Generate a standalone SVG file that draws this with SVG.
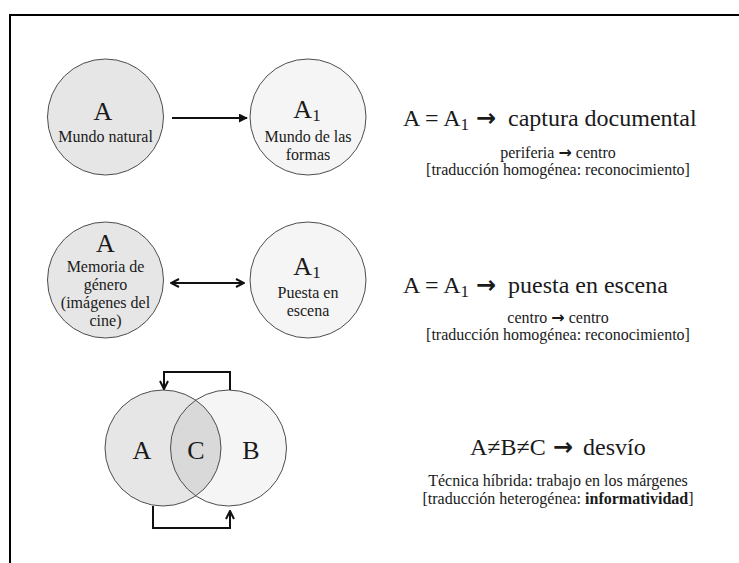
<svg xmlns="http://www.w3.org/2000/svg" width="739" height="563" viewBox="0 0 739 563">
  <defs>
    <style>
      text { font-family: "Liberation Serif", "Times New Roman", serif; fill: #1a1a1a; }
      .ring { stroke: #4d4d4d; stroke-width: 1; }
      .fa { fill: #e6e6e6; }
      .fb { fill: #f5f5f5; }
      .fc { fill: #d9d9d9; }
      .key { font-size: 26px; text-anchor: middle; }
      .sub { font-size: 17px; }
      .lbl { font-size: 16px; text-anchor: middle; }
      .big { font-size: 24px; }
      .sm { font-size: 16px; text-anchor: middle; }
      .arr { font-family: "DejaVu Sans", sans-serif; font-weight: bold; }
      .conn { fill: none; stroke: #111; stroke-width: 2; }
    </style>
    <marker id="head" viewBox="0 0 10 10" refX="9" refY="5" markerWidth="9" markerHeight="9" markerUnits="userSpaceOnUse" orient="auto-start-reverse">
      <path d="M0,0 L10,5 L0,10 z" fill="#111"/>
    </marker>
    <marker id="chev" viewBox="0 0 10 10" refX="9" refY="5" markerWidth="10" markerHeight="10" markerUnits="userSpaceOnUse" orient="auto-start-reverse">
      <path d="M1,1 L9,5 L1,9" fill="none" stroke="#111" stroke-width="2"/>
    </marker>
    <clipPath id="leftDisc">
      <circle cx="163" cy="448" r="58"/>
    </clipPath>
  </defs>

  <rect width="739" height="563" fill="#fff"/>
  <!-- frame -->
  <path d="M10 563 V15 H739" fill="none" stroke="#000" stroke-width="2"/>

  <!-- row 1 -->
  <g id="mundo-natural">
    <circle class="ring fa" cx="105.5" cy="117" r="58"/>
    <text class="key" x="103" y="120">A</text>
    <text class="lbl" x="105.5" y="142">Mundo natural</text>
  </g>
  <g id="mundo-formas">
    <circle class="ring fb" cx="308" cy="117" r="58"/>
    <text class="key" x="307" y="118">A<tspan class="sub" dy="3">1</tspan></text>
    <text class="lbl" x="308" y="142">Mundo de las</text>
    <text class="lbl" x="308" y="160">formas</text>
  </g>

  <!-- row 2 -->
  <g id="memoria-genero">
    <circle class="ring fa" cx="105.5" cy="280" r="58"/>
    <text class="key" x="105.5" y="252">A</text>
    <text class="lbl" x="105.5" y="272">Memoria de</text>
    <text class="lbl" x="105.5" y="290">género</text>
    <text class="lbl" x="105.5" y="308">(imágenes del</text>
    <text class="lbl" x="105.5" y="326">cine)</text>
  </g>
  <g id="puesta-escena">
    <circle class="ring fb" cx="308" cy="280" r="58"/>
    <text class="key" x="307" y="275">A<tspan class="sub" dy="3">1</tspan></text>
    <text class="lbl" x="308" y="298">Puesta en</text>
    <text class="lbl" x="308" y="316">escena</text>
  </g>

  <!-- row 3: overlapping sets -->
  <g id="venn">
    <circle class="fa" cx="163" cy="448" r="58"/>
    <circle class="fb" cx="228.5" cy="448" r="58"/>
    <circle class="fc" cx="228.5" cy="448" r="58" clip-path="url(#leftDisc)"/>
    <circle class="ring" fill="none" cx="163" cy="448" r="58"/>
    <circle class="ring" fill="none" cx="228.5" cy="448" r="58"/>
    <text class="key" x="142" y="459">A</text>
    <text class="key" x="196" y="459">C</text>
    <text class="key" x="251" y="459">B</text>
  </g>

  <!-- connectors -->
  <g id="connectors">
    <line class="conn" x1="172" y1="118" x2="247" y2="118" marker-end="url(#head)"/>
    <line class="conn" x1="171" y1="283" x2="244" y2="283" marker-start="url(#chev)" marker-end="url(#chev)"/>
    <path class="conn" d="M230 390 V372 H164 V389" marker-end="url(#chev)"/>
    <path class="conn" d="M153 506 V528 H230 V511" marker-end="url(#chev)"/>
  </g>

  <!-- formulas -->
  <g id="formula-1">
    <text class="big" y="126"><tspan x="403">A = A</tspan><tspan class="sub" dy="4">1</tspan><tspan class="arr" x="476" dy="-4">→</tspan><tspan x="508">captura documental</tspan></text>
    <text class="sm" x="558" y="158">periferia <tspan class="arr">→</tspan> centro</text>
    <text class="sm" x="558" y="175">[traducción homogénea: reconocimiento]</text>
  </g>
  <g id="formula-2">
    <text class="big" y="293"><tspan x="403">A = A</tspan><tspan class="sub" dy="4">1</tspan><tspan class="arr" x="476" dy="-4">→</tspan><tspan x="508">puesta en escena</tspan></text>
    <text class="sm" x="558" y="323">centro <tspan class="arr">→</tspan> centro</text>
    <text class="sm" x="558" y="340">[traducción homogénea: reconocimiento]</text>
  </g>
  <g id="formula-3">
    <text class="big" y="455"><tspan x="470">A≠B≠C</tspan><tspan class="arr" x="553">→</tspan><tspan x="583">desvío</tspan></text>
    <text class="sm" x="558" y="486">Técnica híbrida: trabajo en los márgenes</text>
    <text class="sm" x="558" y="504">[traducción heterogénea: <tspan font-weight="bold">informatividad</tspan>]</text>
  </g>
</svg>
